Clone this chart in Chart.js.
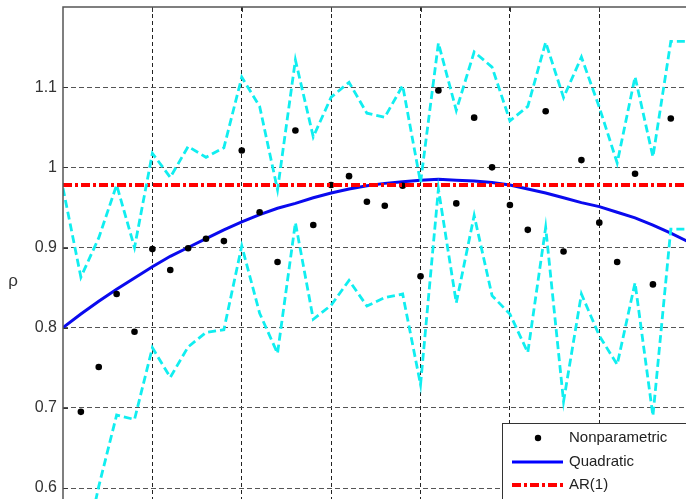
<!DOCTYPE html>
<html>
<head>
<meta charset="utf-8">
<script src="https://cdn.jsdelivr.net/npm/chart.js@4/dist/chart.umd.min.js"></script>
<style>
html,body{margin:0;padding:0;background:#fff;overflow:hidden;}
canvas{display:block;}
</style>
</head>
<body>
<canvas id="c" width="686" height="499"></canvas>
<script>
// ---- data ----
const xIdx = [0,1,2,3,4,5,6,7,8,9,10,11,12,13,14,15,16,17,18,19,20,21,22,23,24,25,26,27,28,29,30,31,32,33,34,35];
const dotX = [1,2,3,4,5,6,7,8,9,10,11,12,13,14,15,16,17,18,19,20,21,22,23,24,25,26,27,28,29,30,31,32,33,34];
const nonparametric = [0.695,0.751,0.842,0.795,0.898,0.872,0.899,0.911,0.908,1.021,0.944,0.882,1.046,0.928,0.978,0.989,0.957,0.952,0.977,0.864,1.096,0.955,1.062,1.000,0.953,0.922,1.070,0.895,1.009,0.931,0.882,0.992,0.854,1.061];
const quadratic = [0.800,0.817,0.833,0.848,0.862,0.876,0.889,0.900,0.911,0.922,0.932,0.941,0.949,0.955,0.962,0.968,0.973,0.977,0.980,0.982,0.984,0.985,0.984,0.983,0.981,0.978,0.973,0.968,0.962,0.956,0.951,0.944,0.937,0.928,0.918,0.907];
const upperBand = [0.974,0.863,0.912,0.978,0.900,1.0175,0.9875,1.026,1.0125,1.0245,1.1125,1.076,0.972,1.134,1.038,1.0875,1.106,1.0675,1.0625,1.102,0.981,1.155,1.071,1.144,1.125,1.058,1.076,1.156,1.087,1.1375,1.075,1.0055,1.113,1.013,1.157,1.157];
const lowerBand = [0.56,0.50,0.602,0.691,0.6855,0.775,0.738,0.776,0.794,0.7975,0.902,0.818,0.768,0.931,0.8105,0.828,0.859,0.827,0.8375,0.842,0.729,0.973,0.831,0.940,0.840,0.817,0.769,0.925,0.708,0.842,0.790,0.754,0.856,0.690,0.923,0.923];
const ar1X = [0,35];
const ar1 = [0.978,0.978];
const yTickValues = [0.6,0.7,0.8,0.9,1.0,1.1];
const xTickValues = [5,10,15,20,25,30];
const legendLabels = ['Nonparametric','Quadratic','AR(1)'];
const yAxisTitle = 'ρ';

const pts = (xs, ys) => xs.map((x,i) => ({x, y: ys[i]}));
const FONT = 'Arial, "Liberation Sans", Helvetica, sans-serif';

const decor = {
  id: 'decor',
  afterDatasetsDraw(chart) {
    const ctx = chart.ctx, a = chart.chartArea;
    const ys = chart.scales.y, xs = chart.scales.x;
    ctx.save();
    // inner tick marks
    ctx.strokeStyle = '#333'; ctx.lineWidth = 1;
    yTickValues.forEach(v => {
      const y = Math.round(ys.getPixelForValue(v)) + 0.5;
      ctx.beginPath(); ctx.moveTo(a.left, y); ctx.lineTo(a.left + 5, y); ctx.stroke();
    });
    xTickValues.forEach(v => {
      const x = Math.round(xs.getPixelForValue(v)) + 0.5;
      ctx.beginPath(); ctx.moveTo(x, a.top); ctx.lineTo(x, a.top + 5); ctx.stroke();
    });
    // frame (left and top)
    ctx.strokeStyle = '#555'; ctx.lineWidth = 1.5;
    ctx.beginPath();
    ctx.moveTo(a.left, a.bottom + 5); ctx.lineTo(a.left, a.top); ctx.lineTo(a.right + 5, a.top);
    ctx.stroke();
    // y axis title
    ctx.fillStyle = '#333'; ctx.font = '17px ' + FONT;
    ctx.textAlign = 'center'; ctx.textBaseline = 'middle';
    ctx.fillText(yAxisTitle, 13, 281);
    // legend box
    const bx = 502, by = 423;
    ctx.fillStyle = '#fff';
    ctx.fillRect(bx, by, 300, 200);
    ctx.strokeStyle = '#333'; ctx.lineWidth = 1;
    ctx.strokeRect(bx + 0.5, by + 0.5, 300, 200);
    ctx.font = '15px ' + FONT; ctx.textAlign = 'left'; ctx.textBaseline = 'middle';
    // Nonparametric
    ctx.fillStyle = '#000';
    ctx.beginPath(); ctx.arc(538, 438, 3.2, 0, Math.PI * 2); ctx.fill();
    ctx.fillStyle = '#222';
    ctx.fillText(legendLabels[0], 569, 438);
    // Quadratic
    ctx.strokeStyle = '#0000ff'; ctx.lineWidth = 3; ctx.setLineDash([]);
    ctx.beginPath(); ctx.moveTo(512, 462); ctx.lineTo(563, 462); ctx.stroke();
    ctx.fillText(legendLabels[1], 569, 462);
    // AR(1)
    ctx.strokeStyle = '#ff0000'; ctx.lineWidth = 4; ctx.setLineDash([9,3,3,3]);
    ctx.beginPath(); ctx.moveTo(512, 485); ctx.lineTo(563, 485); ctx.stroke();
    ctx.setLineDash([]);
    ctx.fillText(legendLabels[2], 569, 485);
    ctx.restore();
  }
};

new Chart(document.getElementById('c'), {
  type: 'line',
  data: {
    datasets: [
      { label: legendLabels[0], type: 'scatter', data: pts(dotX, nonparametric),
        showLine: false, pointRadius: 3.3, pointHoverRadius: 3.3, pointBackgroundColor: '#000', pointBorderColor: '#000', pointBorderWidth: 0, order: 3 },
      { label: 'upper', data: pts(xIdx, upperBand), borderColor: '#10eef0', borderWidth: 2.8, borderDash: [8,4],
        pointRadius: 0, tension: 0, fill: false, order: 1 },
      { label: 'lower', data: pts(xIdx, lowerBand), borderColor: '#10eef0', borderWidth: 2.8, borderDash: [8,4],
        pointRadius: 0, tension: 0, fill: false, order: 1 },
      { label: legendLabels[2], data: pts(ar1X, ar1), borderColor: '#ff0000', borderWidth: 4, borderDash: [9,3,3,3],
        pointRadius: 0, tension: 0, fill: false, order: 2 },
      { label: legendLabels[1], data: pts(xIdx, quadratic), borderColor: '#0a0aee', borderWidth: 3,
        pointRadius: 0, tension: 0, fill: false, order: 4 }
    ]
  },
  options: {
    responsive: false,
    animation: false,
    devicePixelRatio: 1,
    layout: { autoPadding: false, padding: { top: 7, left: 0, right: 0, bottom: 0 } },
    plugins: { legend: { display: false }, tooltip: { enabled: false }, title: { display: false } },
    events: [],
    scales: {
      x: {
        type: 'linear', min: 0, max: 34.85,
        ticks: { display: false, stepSize: 5 },
        grid: { color: '#222', lineWidth: 1, drawTicks: false },
        border: { display: false, dash: [4,3] },
        afterBuildTicks: s => { s.ticks = xTickValues.map(v => ({value: v})); },
        afterFit: s => { s.height = 0; s.paddingLeft = 0; s.paddingRight = 0; }
      },
      y: {
        type: 'linear', min: 0.5863, max: 1.2,
        ticks: { stepSize: 0.1, padding: 6, color: '#333', font: { family: FONT, size: 16 },
          callback: v => String(Math.round(v * 10) / 10) },
        grid: { color: '#555', lineWidth: 1, drawTicks: false },
        border: { display: false, dash: [5,3] },
        afterBuildTicks: s => { s.ticks = yTickValues.map(v => ({value: v})); },
        afterFit: s => { s.width = 63; s.paddingTop = 0; s.paddingBottom = 0; }
      }
    }
  },
  plugins: [decor]
});
</script>
</body>
</html>
